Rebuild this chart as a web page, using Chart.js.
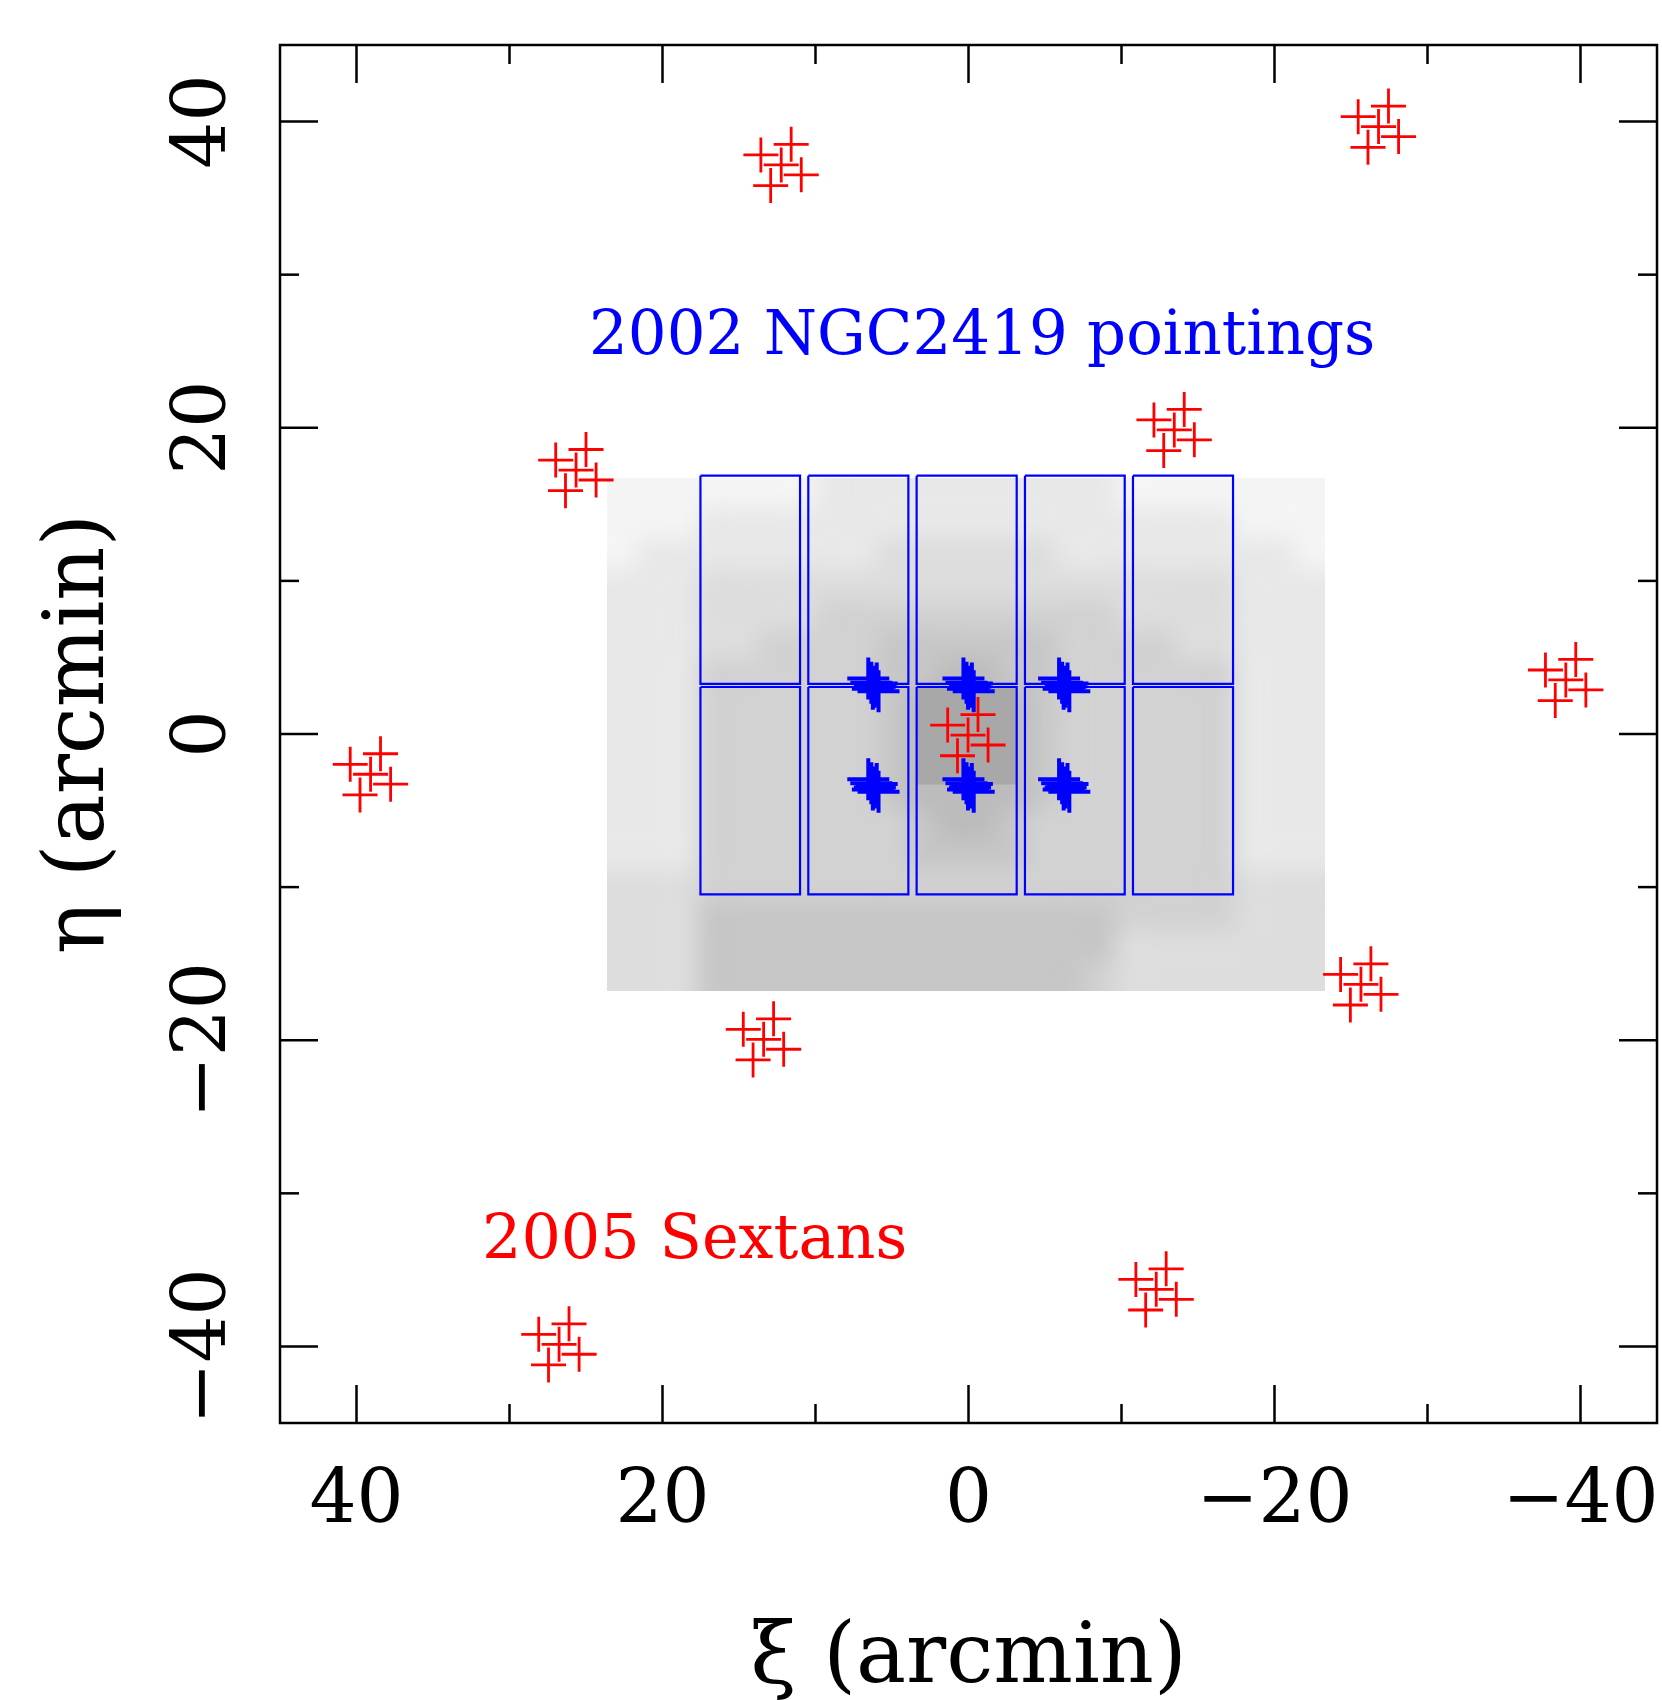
<!DOCTYPE html>
<html>
<head>
<meta charset="utf-8">
<script src="https://cdn.jsdelivr.net/npm/chart.js@4.4.1/dist/chart.umd.min.js"></script>
<style>
  body { margin: 0; background: #fff; }
  canvas { display: block; }
</style>
</head>
<body>
<canvas id="myChart" width="1662" height="1700"></canvas>
<script>
// 2005 Sextans pointings, 11 fields x 5 dither positions (arcmin)
const sextansXi = [
  12.24, 13.57, 11.59, 10.93, 12.93,
  -26.8, -25.47, -27.45, -28.11, -26.11,
  25.65, 26.98, 25.0, 24.34, 26.34,
  -13.45, -12.12, -14.1, -14.76, -12.76,
  -39.04, -37.71, -39.69, -40.35, -38.35,
  39.08, 40.41, 38.43, 37.77, 39.77,
  0.03, 1.36, -0.62, -1.28, 0.72,
  13.39, 14.72, 12.74, 12.08, 14.08,
  -25.65, -24.32, -26.3, -26.96, -24.96,
  -12.27, -10.94, -12.92, -13.58, -11.58,
  26.76, 28.09, 26.11, 25.45, 27.45,
];
const sextansEta = [
  37.17, 37.82, 38.51, 36.52, 35.82,
  39.67, 40.32, 41.01, 39.02, 38.32,
  17.24, 17.89, 18.58, 16.59, 15.89,
  19.86, 20.51, 21.2, 19.21, 18.51,
  3.53, 4.18, 4.87, 2.88, 2.18,
  -2.63, -1.98, -1.29, -3.28, -3.98,
  -0.07, 0.58, 1.27, -0.72, -1.42,
  -19.94, -19.29, -18.6, -20.59, -21.29,
  -16.35, -15.7, -15.01, -17.0, -17.7,
  -36.27, -35.62, -34.93, -36.92, -37.62,
  -39.86, -39.21, -38.52, -40.51, -41.21,
];

// 2002 NGC2419 pointings (6 groups of dithered centres)
const ngcXi = [
  6.55, 6.35, 6.12, 5.88, 6.25, 6.0,
  0.33, 0.13, -0.1, -0.34, 0.03, -0.22,
  -5.92, -6.12, -6.35, -6.59, -6.22, -6.47,
  6.55, 6.35, 6.12, 5.88, 6.25, 6.0,
  0.33, 0.13, -0.1, -0.34, 0.03, -0.22,
  -5.92, -6.12, -6.35, -6.59, -6.22, -6.47,
];
const ngcEta = [
  3.62, 3.35, 3.08, 2.8, 2.95, 3.3,
  3.62, 3.35, 3.08, 2.8, 2.95, 3.3,
  3.62, 3.35, 3.08, 2.8, 2.95, 3.3,
  -2.95, -3.22, -3.49, -3.77, -3.62, -3.27,
  -2.95, -3.22, -3.49, -3.77, -3.62, -3.27,
  -2.95, -3.22, -3.49, -3.77, -3.62, -3.27,
];

// CCD outlines of the 2002 mosaic
const chipXiLeft = [17.52, 10.47, 3.39, -3.69, -10.75];
const chipXiRight = [11.01, 3.93, -3.15, -10.21, -17.29];
const chipEtaTop = [16.87, 3.07];
const chipEtaBottom = [3.27, -10.47];

// star field: relative density (0-9) in ~2' cells
const fieldXi = [23.6, 22, 20, 18, 16, 14, 12, 10, 8, 6, 4, 2, 0, -2, -4, -6, -8, -10, -12, -14, -16, -18, -20, -22, -23.3];
const fieldEta = [16.7, 15, 13, 11, 9, 7, 5, 3, 1, -1, -3, -5, -7, -9, -11, -13, -15, -16.8];
const fieldDensity = [
  "111111122222222221111111",
  "111222222222222222222111",
  "122222222333333222222221",
  "222333333333333333333222",
  "222333344444444443333222",
  "222334444555555444433222",
  "222444444556655444444222",
  "222444444566665444444222",
  "222444444566665444444222",
  "222444444566665444444222",
  "222444444566665444444222",
  "222444444456654444444222",
  "222444444455554444444222",
  "333444444444444444444333",
  "333555555555555554444333",
  "333555555555555553333333",
  "333555555555555543333333",
];
// saturated cluster core inside the central chip (xi, eta edges)
const coreXi = [3.39, -3.15];
const coreEta = [3.07, -3.3];

const majorTicks = [40, 20, 0, -20, -40];
const minorTicks = [30, 10, -10, -30];

const blue = "#0000ff";
const red = "#ff0000";
const serif = '"DejaVu Serif", "Liberation Serif", serif';

const chipSets = [];
chipEtaTop.forEach((top, r) => {
  chipXiLeft.forEach((left, c) => {
    const right = chipXiRight[c];
    const bottom = chipEtaBottom[r];
    chipSets.push({
      data: [
        { x: left, y: top },
        { x: right, y: top },
        { x: right, y: bottom },
        { x: left, y: bottom },
        { x: left, y: top },
      ],
      showLine: true,
      borderColor: blue,
      borderWidth: 2.2,
      borderJoinStyle: "miter",
      pointRadius: 0,
      fill: false,
      order: 3,
    });
  });
});

// density map drawn as a small image stretched over the field through the scales
const starField = {
  id: "starField",
  beforeDatasetsDraw(chart) {
    const { ctx } = chart;
    const { x, y } = chart.scales;
    const rows = fieldDensity.length;
    const cols = fieldDensity[0].length;
    const off = document.createElement("canvas");
    off.width = cols;
    off.height = rows;
    const octx = off.getContext("2d");
    const img = octx.createImageData(cols, rows);
    fieldDensity.forEach((row, j) => {
      for (let i = 0; i < cols; i++) {
        const k = (j * cols + i) * 4;
        img.data[k] = 165;
        img.data[k + 1] = 165;
        img.data[k + 2] = 165;
        img.data[k + 3] = Math.round(Math.min(1, Number(row[i]) / 8) * 255);
      }
    });
    octx.putImageData(img, 0, 0);
    const left = x.getPixelForValue(fieldXi[0]);
    const right = x.getPixelForValue(fieldXi[cols]);
    const top = y.getPixelForValue(fieldEta[0]);
    const bottom = y.getPixelForValue(fieldEta[rows]);
    ctx.save();
    ctx.imageSmoothingEnabled = true;
    ctx.imageSmoothingQuality = "high";
    ctx.drawImage(off, left, top, right - left, bottom - top);

    const cl = x.getPixelForValue(coreXi[0]);
    const cr = x.getPixelForValue(coreXi[1]);
    const ct = y.getPixelForValue(coreEta[0]);
    const cb = y.getPixelForValue(coreEta[1]);
    ctx.fillStyle = "rgb(168,168,168)";
    ctx.fillRect(cl, ct, cr - cl, cb - ct);
    ctx.restore();
  },
};

function fmt(v) {
  return v < 0 ? "\u2212" + Math.abs(v) : String(v);
}

const frame = {
  id: "frame",
  afterDraw(chart) {
    const { ctx, chartArea: a } = chart;
    const { x, y } = chart.scales;
    ctx.save();
    ctx.strokeStyle = "#000";
    ctx.lineWidth = 2.5;
    ctx.strokeRect(a.left, a.top, a.right - a.left, a.bottom - a.top);

    const seg = (x1, y1, x2, y2) => {
      ctx.beginPath();
      ctx.moveTo(x1, y1);
      ctx.lineTo(x2, y2);
      ctx.stroke();
    };
    const ticks = (vals, len) => {
      vals.forEach((v) => {
        const px = x.getPixelForValue(v);
        seg(px, a.bottom, px, a.bottom - len);
        seg(px, a.top, px, a.top + len);
        const py = y.getPixelForValue(v);
        seg(a.left, py, a.left + len, py);
        seg(a.right, py, a.right - len, py);
      });
    };
    ticks(majorTicks, 38);
    ticks(minorTicks, 19);

    ctx.fillStyle = "#000";
    ctx.font = "74px " + serif;
    ctx.textAlign = "center";
    ctx.textBaseline = "alphabetic";
    majorTicks.forEach((v) => {
      ctx.fillText(fmt(v), x.getPixelForValue(v), a.bottom + 99);
      ctx.save();
      ctx.translate(a.left - 55, y.getPixelForValue(v));
      ctx.rotate(-Math.PI / 2);
      ctx.fillText(fmt(v), 0, 0);
      ctx.restore();
    });

    // axis titles
    ctx.font = "84px " + serif;
    ctx.fillText("\u03be (arcmin)", (a.left + a.right) / 2, a.bottom + 259);
    ctx.save();
    ctx.translate(a.left - 177, (a.top + a.bottom) / 2);
    ctx.rotate(-Math.PI / 2);
    ctx.fillText("\u03b7 (arcmin)", 0, 0);
    ctx.restore();

    // legend texts
    ctx.textAlign = "left";
    ctx.font = "61px " + serif;
    ctx.fillStyle = blue;
    ctx.fillText("2002 NGC2419 pointings", x.getPixelForValue(24.8), y.getPixelForValue(24.79));
    ctx.font = "62px " + serif;
    ctx.fillStyle = red;
    ctx.fillText("2005 Sextans", x.getPixelForValue(31.8), y.getPixelForValue(-34.2));
    ctx.restore();
  },
};

const ctx = document.getElementById("myChart").getContext("2d");
const chart = new Chart(ctx, {
  type: "scatter",
  data: {
    datasets: [
      {
        label: "2005 Sextans",
        data: sextansXi.map((v, i) => ({ x: v, y: sextansEta[i] })),
        pointStyle: "cross",
        pointRadius: 17.5,
        pointBorderWidth: 2.8,
        pointBorderColor: red,
        pointBackgroundColor: red,
        borderColor: red,
        order: 1,
      },
      {
        label: "2002 NGC2419",
        data: ngcXi.map((v, i) => ({ x: v, y: ngcEta[i] })),
        pointStyle: "cross",
        pointRadius: 21,
        pointBorderWidth: 4,
        pointBorderColor: blue,
        pointBackgroundColor: blue,
        borderColor: blue,
        order: 2,
      },
      ...chipSets,
    ],
  },
  options: {
    responsive: false,
    animation: false,
    devicePixelRatio: 1,
    events: [],
    layout: { autoPadding: false, padding: { top: 45, right: 5, left: 0, bottom: 0 } },
    plugins: {
      legend: { display: false },
      tooltip: { enabled: false },
    },
    scales: {
      x: {
        type: "linear",
        min: -45,
        max: 45,
        reverse: true,
        grid: { display: false },
        border: { display: false },
        ticks: { display: false },
        afterFit: (s) => { s.height = 277; },
      },
      y: {
        type: "linear",
        min: -45,
        max: 45,
        grid: { display: false },
        border: { display: false },
        ticks: { display: false },
        afterFit: (s) => { s.width = 280; },
      },
    },
  },
  plugins: [starField, frame],
});
</script>
</body>
</html>
